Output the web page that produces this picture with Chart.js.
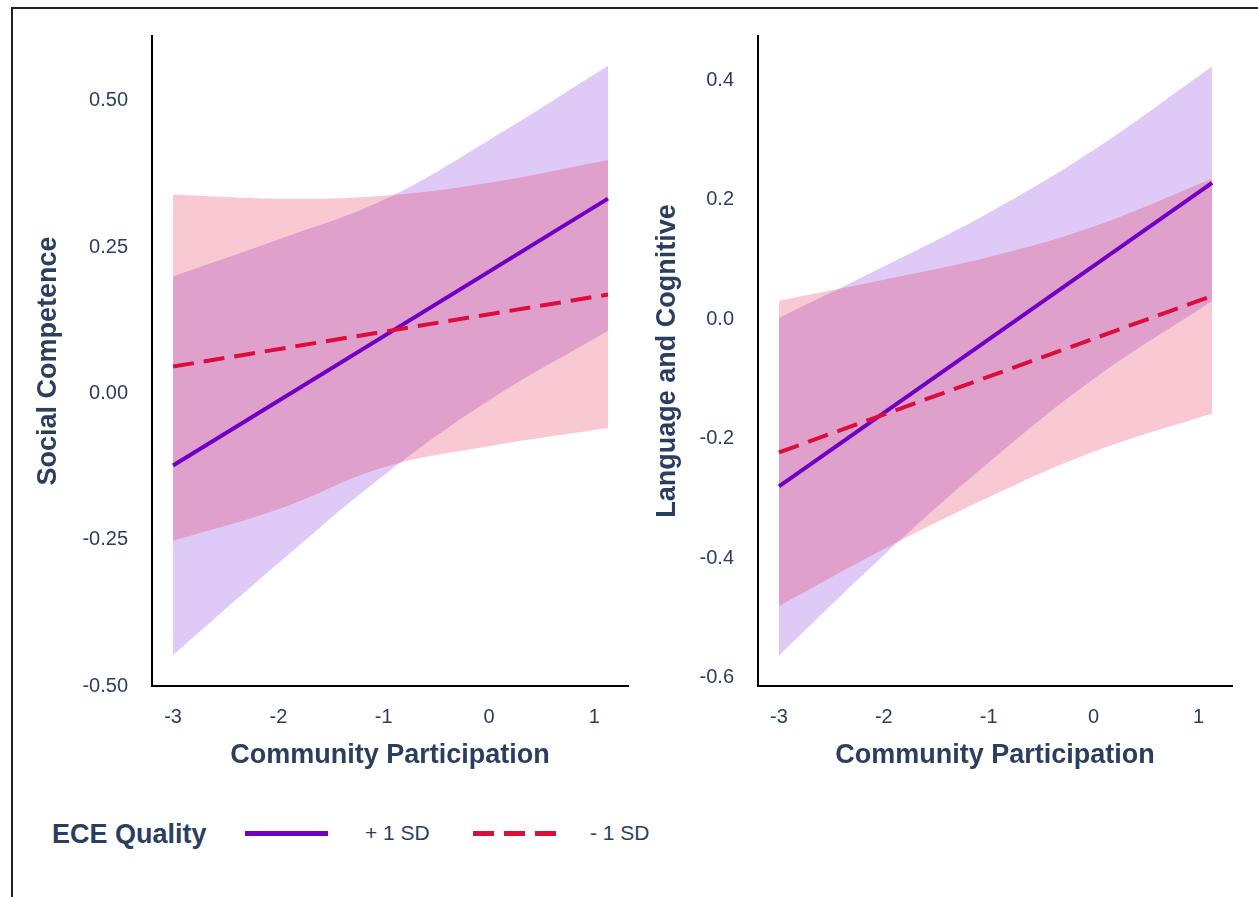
<!DOCTYPE html>
<html>
<head>
    <title>ECE Quality x Community Participation</title>
    <script src="https://cdn.jsdelivr.net/npm/chart.js"></script>
    <style>
        body { margin: 0; background: #fff; font-family: "Liberation Sans", Arial, sans-serif; }
        #page { position: relative; width: 1258px; height: 897px; overflow: hidden; }
        #frame { position: absolute; left: 11px; top: 7px; width: 1400px; height: 1000px;
                 border-left: 2px solid #222; border-top: 2px solid #222; }
        canvas { position: absolute; top: 0; }
        #scChart { left: 0; }
        #lcChart { left: 620px; }
        .lg { position: absolute; color: #2a3f5f; white-space: nowrap; }
        .lgTitle { left: 52px; top: 818px; font-size: 27px; font-weight: bold; line-height: 32px; }
        .lgText { font-size: 21px; line-height: 24px; top: 821px; }
        .lgLine { position: absolute; top: 831px; height: 5px; }
    </style>
</head>
<body>
<div id="page">
    <div id="frame"></div>
    <canvas id="scChart" width="640" height="800"></canvas>
    <canvas id="lcChart" width="638" height="800"></canvas>

    <div class="lg lgTitle">ECE Quality</div>
    <div class="lgLine" style="left:245px; width:83px; background:#7000c4;"></div>
    <div class="lg lgText" style="left:365px;">+ 1 SD</div>
    <div class="lgLine" style="left:473px; width:21px; background:#dc0c3c;"></div>
    <div class="lgLine" style="left:504px; width:21px; background:#dc0c3c;"></div>
    <div class="lgLine" style="left:535px; width:21px; background:#dc0c3c;"></div>
    <div class="lg lgText" style="left:590px;">- 1 SD</div>
</div>

<script>
    // x positions (community participation)
    var bandX = [-3, -2, -1, 0, 1.13];
    var lineX = [-3, 1.13];
    var xTicks = [-3, -2, -1, 0, 1];

    // Social Competence panel
    var scPlusLine   = [-0.123, 0.333];
    var scMinusLine  = [0.046, 0.169];
    var scPlusUpper  = [0.200, 0.263, 0.331, 0.433, 0.560];
    var scPlusLower  = [-0.447, -0.290, -0.140, -0.012, 0.107];
    var scMinusUpper = [0.340, 0.333, 0.338, 0.360, 0.399];
    var scMinusLower = [-0.252, -0.198, -0.126, -0.090, -0.059];
    var scTicks = [-0.5, -0.25, 0, 0.25, 0.5];

    // Language and Cognitive panel
    var lcPlusLine   = [-0.280, 0.228];
    var lcMinusLine  = [-0.223, 0.039];
    var lcPlusUpper  = [0.002, 0.088, 0.178, 0.283, 0.423];
    var lcPlusLower  = [-0.563, -0.395, -0.240, -0.100, 0.030];
    var lcMinusUpper = [0.031, 0.066, 0.104, 0.155, 0.235];
    var lcMinusLower = [-0.480, -0.385, -0.298, -0.222, -0.158];
    var lcTicks = [-0.6, -0.4, -0.2, 0, 0.2, 0.4];

    var textColor = '#2a3f5f';
    var plusColor = '#7000c4';
    var minusColor = '#dc0c3c';
    var plusFill = 'rgba(150, 80, 230, 0.30)';
    var minusFill = 'rgba(225, 20, 60, 0.23)';
    var fontFamily = '"Liberation Sans", Arial, sans-serif';

    function pts(xs, ys) {
        return xs.map(function(x, i) { return {x: x, y: ys[i]}; });
    }

    function band(ys, color, fill) {
        return {
            data: pts(bandX, ys),
            borderWidth: 0,
            pointRadius: 0,
            backgroundColor: color,
            fill: fill,
            tension: 0.4
        };
    }

    function makeChart(id, d, opt) {
        var ctx = document.getElementById(id).getContext('2d');
        return new Chart(ctx, {
            type: 'line',
            data: {
                datasets: [
                    // minus line on top, then plus line, then red band over purple band
                    { label: '- 1 SD', data: pts(lineX, d.minusLine), borderColor: minusColor,
                      borderWidth: 4, borderDash: [21, 10], pointRadius: 0, fill: false },
                    { label: '+ 1 SD', data: pts(lineX, d.plusLine), borderColor: plusColor,
                      borderWidth: 4, pointRadius: 0, fill: false },
                    band(d.minusUpper, minusFill, '+1'),
                    band(d.minusLower, minusFill, false),
                    band(d.plusUpper, plusFill, '+1'),
                    band(d.plusLower, plusFill, false)
                ]
            },
            options: {
                responsive: false,
                animation: false,
                layout: { padding: opt.padding },
                plugins: { legend: { display: false }, tooltip: { enabled: false } },
                scales: {
                    x: {
                        type: 'linear',
                        min: -3.2,
                        max: 1.32,
                        grid: { display: false, drawTicks: false },
                        border: { display: true, color: '#000', width: 2 },
                        afterBuildTicks: function(s) { s.ticks = xTicks.map(function(v) { return {value: v}; }); },
                        afterFit: function(s) { s.height = 90; },
                        ticks: {
                            padding: 19,
                            color: textColor,
                            font: { family: fontFamily, size: 20 },
                            callback: function(v) { return String(v); }
                        },
                        title: {
                            display: true,
                            text: 'Community Participation',
                            color: textColor,
                            padding: { top: 0, bottom: 4 },
                            font: { family: fontFamily, size: 27, weight: 'bold' }
                        }
                    },
                    y: {
                        min: opt.yMin,
                        max: opt.yMax,
                        grid: { display: false, drawTicks: false },
                        border: { display: true, color: '#000', width: 2 },
                        afterBuildTicks: function(s) { s.ticks = opt.yTicks.map(function(v) { return {value: v}; }); },
                        afterFit: function(s) { s.width = opt.yWidth; },
                        ticks: {
                            padding: 24,
                            color: textColor,
                            font: { family: fontFamily, size: 20 },
                            callback: function(v) { return v.toFixed(opt.digits); }
                        },
                        title: {
                            display: true,
                            text: opt.title,
                            color: textColor,
                            padding: { top: 0, bottom: 0 },
                            font: { family: fontFamily, size: 27, weight: 'bold' }
                        }
                    }
                }
            }
        });
    }

    makeChart('scChart', {
        plusLine: scPlusLine, minusLine: scMinusLine,
        plusUpper: scPlusUpper, plusLower: scPlusLower,
        minusUpper: scMinusUpper, minusLower: scMinusLower
    }, {
        title: 'Social Competence',
        yMin: -0.5, yMax: 0.611, yTicks: scTicks, digits: 2, yWidth: 120,
        padding: { left: 32, top: 36, right: 12, bottom: 24 }
    });

    makeChart('lcChart', {
        plusLine: lcPlusLine, minusLine: lcMinusLine,
        plusUpper: lcPlusUpper, plusLower: lcPlusLower,
        minusUpper: lcMinusUpper, minusLower: lcMinusLower
    }, {
        title: 'Language and Cognitive',
        yMin: -0.614, yMax: 0.474, yTicks: lcTicks, digits: 1, yWidth: 107,
        padding: { left: 31, top: 36, right: 26, bottom: 24 }
    });
</script>
</body>
</html>
